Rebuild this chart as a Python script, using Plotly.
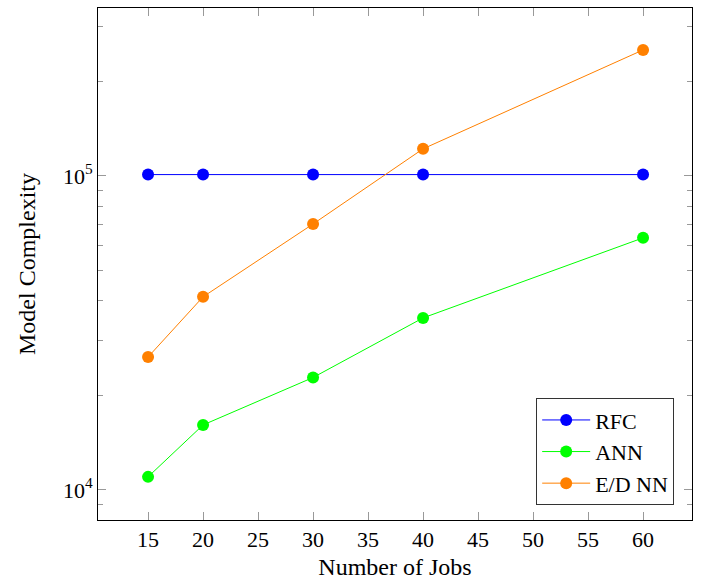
import plotly.graph_objects as go

jobs = [15, 20, 30, 40, 60]
rfc = [101000, 101000, 101000, 101000, 101000]
ann = [11000, 16100, 22800, 35300, 63500]
ednn = [26500, 41200, 70300, 122000, 252000]

x_ticks = [15, 20, 25, 30, 35, 40, 45, 50, 55, 60]
y_ticks = [1e4, 1e5]
y_tick_text = ["10<sup>4</sup>", "10<sup>5</sup>"]
minor_y = [m * 10 ** e for e in (3, 4, 5) for m in range(2, 10)]

font_family = "Liberation Serif, Times New Roman, serif"

fig = go.Figure()
series = [("RFC", rfc, "#0000ff"), ("ANN", ann, "#00ff00"), ("E/D NN", ednn, "#ff8000")]
for name, vals, col in series:
    fig.add_trace(go.Scatter(
        x=jobs, y=vals, name=name, mode="lines+markers",
        line=dict(color=col, width=1),
        marker=dict(color=col, size=12),
    ))

fig.update_layout(
    width=708, height=583,
    margin=dict(l=98, r=16, t=8, b=63),
    paper_bgcolor="white", plot_bgcolor="white",
    font=dict(family=font_family, size=22, color="black"),
    showlegend=True,
    legend=dict(
        x=0.97, y=0.029, xanchor="right", yanchor="bottom",
        bordercolor="#333333", borderwidth=1, bgcolor="white",
        font=dict(family=font_family, size=22),
        itemwidth=48, tracegroupgap=0,
    ),
    xaxis=dict(
        range=[10.45, 64.45],
        tickmode="array", tickvals=x_ticks,
        ticks="inside", ticklen=8, tickcolor="#999999", tickwidth=1,
        showline=True, linecolor="black", linewidth=1, mirror="allticks",
        showgrid=False, zeroline=False,
        title=dict(text="Number of Jobs", font=dict(size=24), standoff=6),
        tickfont=dict(size=22),
    ),
    yaxis=dict(
        type="log", range=[3.904, 5.535],
        tickmode="array", tickvals=y_ticks, ticktext=y_tick_text,
        ticks="inside", ticklen=8, tickcolor="#999999", tickwidth=1,
        showline=True, linecolor="black", linewidth=1, mirror="allticks",
        showgrid=False, zeroline=False,
        minor=dict(tickmode="array", tickvals=minor_y, ticks="inside",
                   ticklen=5, tickcolor="#999999", showgrid=False),
        title=dict(text="Model Complexity", font=dict(size=24), standoff=20),
        tickfont=dict(size=22),
    ),
)

fig.write_html("out.html", config={"displayModeBar": False},
               post_script="document.body.style.margin='0';")
